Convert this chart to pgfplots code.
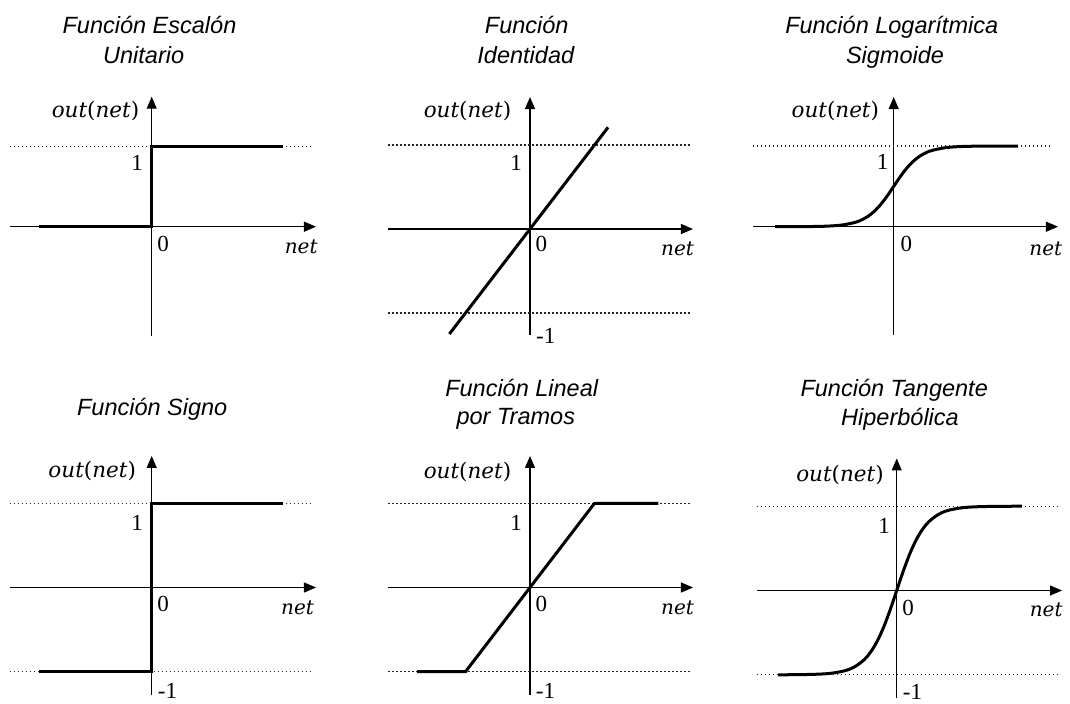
\documentclass[border=0pt]{standalone}
\usepackage{pgfplots}
\pgfplotsset{compat=1.18}
\usetikzlibrary{arrows.meta}
\usepackage{fontspec}
\setmainfont{Liberation Serif}
\newfontfamily\sansit{Liberation Sans}
\newfontfamily\mserif{DejaVu Serif}

\pgfplotsset{
  actfn/.style={
    anchor=origin, x=64.5bp,
    axis lines=middle, xtick=\empty, ytick=\empty, clip=false,
    axis line style={line width=1.2bp, black},
    every inner x axis line/.append style={-{Triangle[length=12bp,width=10bp]}},
    every inner y axis line/.append style={-{Triangle[length=12bp,width=10bp]}},
  },
  curve/.style={black, line width=3bp, no marks},
  lvl/.style={black!85, line width=1.3bp, dash pattern=on 1.4bp off 2.6bp, no marks},
}

\newcommand\ttl{\sansit\itshape\fontsize{23.5bp}{28bp}\selectfont}
\newcommand\var{\mserif\fontsize{21.5bp}{24bp}\selectfont}
\newcommand\nvar{\mserif\itshape\fontsize{20bp}{24bp}\selectfont}
\newcommand\num{\fontsize{23bp}{26bp}\selectfont}

\begin{document}
\begin{tikzpicture}
\useasboundingbox (0,0) rectangle (1070bp,-704bp);

% --- step function
\begin{axis}[actfn, at={(151.7bp,-226.7bp)}, y=80.5bp,
  xmin=-2.197, xmax=2.547, ymin=-1.358, ymax=1.615]
  \addplot[lvl] coordinates {(-2.197,1) (2.47,1)};
  \addplot[curve] coordinates {(-1.75,0) (0,0) (0,1) (2.04,1)};
\end{axis}

% --- identity
\begin{axis}[actfn, at={(530bp,-229bp)}, y=84bp,
  xmin=-2.2, xmax=2.527, ymin=-1.262, ymax=1.571]
  \addplot[lvl] coordinates {(-2.2,1) (2.48,1)};
  \addplot[lvl] coordinates {(-2.2,-1) (2.48,-1)};
  \addplot[curve] coordinates {(-1.25,-1.25) (1.21,1.21)};
\end{axis}

% --- logistic sigmoid
\begin{axis}[actfn, at={(893.7bp,-226.7bp)}, y=80.7bp,
  xmin=-2.181, xmax=2.547, ymin=-1.342, ymax=1.607]
  \addplot[lvl] coordinates {(-2.181,1) (2.47,1)};
  \addplot[curve, smooth] coordinates {
    (-1.84,0.0001) (-1.5,0.0007) (-1.2,0.0031) (-1.0,0.0082) (-0.8,0.0211)
    (-0.6,0.0532) (-0.5,0.0832) (-0.4,0.1279) (-0.3,0.1915) (-0.2,0.2769)
    (-0.1,0.3822) (0,0.5) (0.1,0.6178) (0.2,0.7231) (0.3,0.8085)
    (0.4,0.8721) (0.5,0.9168) (0.6,0.9468) (0.8,0.9789) (1.0,0.9918)
    (1.2,0.9969) (1.5,0.9993) (1.93,0.9999)};
\end{axis}

% --- sign
\begin{axis}[actfn, at={(151.7bp,-587.5bp)}, y=84.2bp,
  xmin=-2.197, xmax=2.547, ymin=-1.277, ymax=1.562]
  \addplot[lvl] coordinates {(-2.197,1) (2.47,1)};
  \addplot[lvl] coordinates {(-2.197,-1) (2.47,-1)};
  \addplot[curve] coordinates {(-1.75,-1) (0,-1) (0,1) (2.04,1)};
\end{axis}

% --- piecewise linear
\begin{axis}[actfn, at={(530bp,-587.5bp)}, y=84.2bp,
  xmin=-2.2, xmax=2.527, ymin=-1.277, ymax=1.562]
  \addplot[lvl] coordinates {(-2.2,1) (2.48,1)};
  \addplot[lvl] coordinates {(-2.2,-1) (2.48,-1)};
  \addplot[curve] coordinates {(-1.75,-1) (-1,-1) (1,1) (1.99,1)};
\end{axis}

% --- hyperbolic tangent
\begin{axis}[actfn, at={(896.7bp,-590.5bp)}, y=84.3bp,
  xmin=-2.166, xmax=2.563, ymin=-1.275, ymax=1.566]
  \addplot[lvl] coordinates {(-2.17,1) (2.505,1)};
  \addplot[lvl] coordinates {(-2.17,-1) (2.505,-1)};
  \addplot[curve, smooth] coordinates {
    (-1.84,-1.0) (-1.5,-0.9980) (-1.2,-0.9920) (-1.0,-0.9801) (-0.8,-0.9510)
    (-0.65,-0.9043) (-0.5,-0.8178) (-0.4,-0.7259) (-0.3,-0.5980) (-0.2,-0.4301)
    (-0.1,-0.2260) (0,0) (0.1,0.2260) (0.2,0.4301) (0.3,0.5980)
    (0.4,0.7259) (0.5,0.8178) (0.65,0.9043) (0.8,0.9510) (1.0,0.9801)
    (1.2,0.9920) (1.5,0.9980) (1.94,1.0)};
\end{axis}

% titles
\begin{scope}[every node/.style={anchor=base, inner sep=0pt, font=\ttl}]
  \node at (149.5bp,-33.3bp) {Función Escalón};
  \node at (143.7bp,-63.3bp) {Unitario};
  \node at (526.7bp,-33.3bp) {Función};
  \node at (525.8bp,-63.3bp) {Identidad};
  \node at (891.7bp,-33.3bp) {Función Logarítmica};
  \node at (895bp,-63.3bp) {Sigmoide};
  \node at (152.2bp,-415.7bp) {Función Signo};
  \node at (521.7bp,-396bp) {Función Lineal};
  \node at (515.8bp,-424.3bp) {por Tramos};
  \node at (894.2bp,-396bp) {Función Tangente};
  \node at (900bp,-425bp) {Hiperbólica};
\end{scope}

% out(net) labels
\begin{scope}[every node/.style={anchor=base, inner sep=0pt, font=\var}]
  \node at (95.5bp,-117.3bp) {\textit{out}(\textit{net})};
  \node at (467.5bp,-117.3bp) {\textit{out}(\textit{net})};
  \node at (835.3bp,-117.5bp) {\textit{out}(\textit{net})};
  \node at (92.2bp,-477.3bp) {\textit{out}(\textit{net})};
  \node at (467.5bp,-478bp) {\textit{out}(\textit{net})};
  \node at (840bp,-481bp) {\textit{out}(\textit{net})};
\end{scope}

% net labels
\begin{scope}[every node/.style={anchor=base, inner sep=0pt, font=\nvar}]
  \node at (301.2bp,-253bp) {net};
  \node at (677.5bp,-255bp) {net};
  \node at (1045.8bp,-255.7bp) {net};
  \node at (297.5bp,-614.3bp) {net};
  \node at (677.5bp,-614.3bp) {net};
  \node at (1046.2bp,-616bp) {net};
\end{scope}

% numbers
\begin{scope}[every node/.style={anchor=base, inner sep=0pt, font=\num}]
  \node at (137.2bp,-170bp) {1};
  \node at (516.2bp,-170bp) {1};
  \node at (882.5bp,-169.3bp) {1};
  \node at (137.2bp,-530bp) {1};
  \node at (516.2bp,-530bp) {1};
  \node at (884.2bp,-533.3bp) {1};
  \node at (163bp,-251.7bp) {0};
  \node at (541.3bp,-251.7bp) {0};
  \node at (906.3bp,-251.7bp) {0};
  \node at (163bp,-611.7bp) {0};
  \node at (541.3bp,-611.7bp) {0};
  \node at (908bp,-615bp) {0};
  \node at (545.8bp,-343.3bp) {-1};
  \node at (167.5bp,-698.5bp) {-1};
  \node at (545.5bp,-698.5bp) {-1};
  \node at (912.5bp,-699bp) {-1};
\end{scope}
\end{tikzpicture}
\end{document}
